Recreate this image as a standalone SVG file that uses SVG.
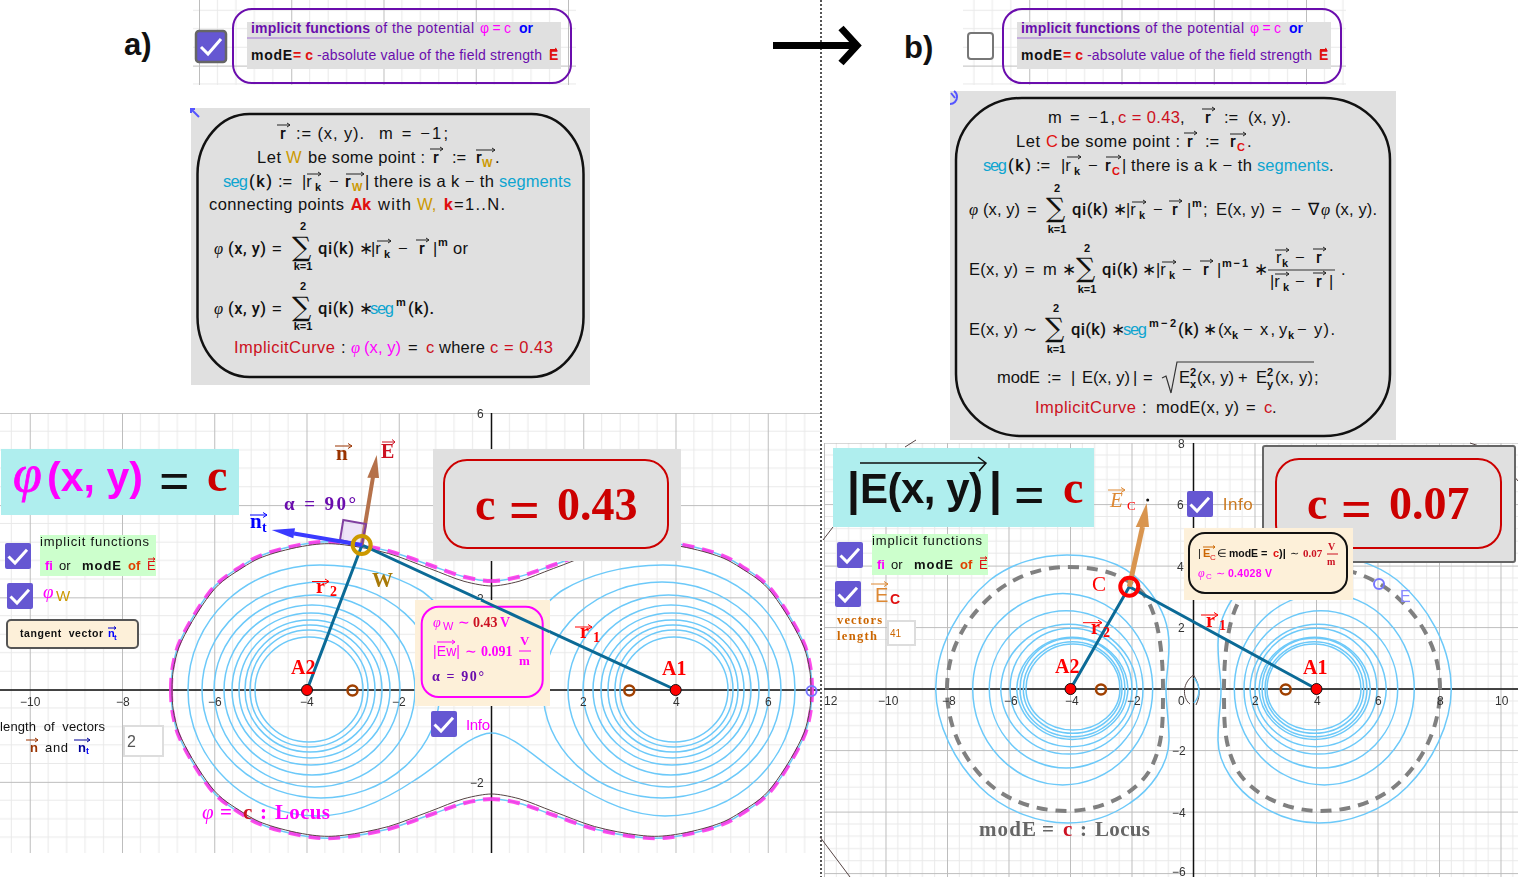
<svg xmlns="http://www.w3.org/2000/svg" width="1518" height="877" viewBox="0 0 1518 877">
<style>
text{font-family:"Liberation Sans",sans-serif;fill:#111;white-space:pre}
.m{font-size:16.5px}
.b{font-weight:bold}
.m.b{font-family:Roboto,sans-serif;font-weight:500}
.m.b.red{font-weight:700}
.sb{font-family:"Liberation Serif",serif;font-weight:bold}
.it{font-family:"Liberation Serif",serif;font-style:italic}
.sm{font-size:11px;font-weight:bold}
.sb11{font-size:11px;font-weight:bold}
.tick{font-size:12px;fill:#333}
.ov{fill:none;stroke:#222;stroke-width:1}
.red{fill:#e01010}
.dred{fill:#cc1122}
.mag{fill:#ff00ff}
.cy{fill:#0ea5d0}
.gold{fill:#cc9900}
.pur{fill:#6a0dad}
.blue{fill:#0000ff}
.org{fill:#cc6600}
.brn{fill:#993300}
.axis{stroke:#111;stroke-width:1.5;fill:none}
.line{stroke:#0b6a96;stroke-width:3;fill:none}
.ring{fill:none;stroke:#6cc9f9;stroke-width:1.5}
.pt{fill:#ff0000;stroke:#111;stroke-width:1}
.br{fill:none;stroke:#a04000;stroke-width:2.5}
.ph{font-family:"Liberation Serif",serif;font-style:italic}
.sig{font-family:"DejaVu Serif",serif;font-size:27px;fill:#111}
.top{font-size:14px}
.w{font-size:13px}
.lab{font-family:"Liberation Serif",serif;font-weight:bold;font-size:20px;fill:#ff0000}
</style>
<defs>
<pattern id="gl" patternUnits="userSpaceOnUse" width="92.25" height="92.25" patternTransform="translate(491,689.6)">
<path d="M18.45 0V92.25M36.9 0V92.25M55.35 0V92.25M73.8 0V92.25M0 18.45H92.25M0 36.9H92.25M0 55.35H92.25M0 73.8H92.25" stroke="#e9e9e9" stroke-width="1" fill="none"/>
<rect x="0" y="0" width="1" height="92.25" fill="#bdbdbd"/><rect x="0" y="0" width="92.25" height="1" fill="#bdbdbd"/>
</pattern>
<pattern id="gr" patternUnits="userSpaceOnUse" width="61.5" height="61.5" patternTransform="translate(1193,688.6)">
<path d="M12.3 0V61.5M24.6 0V61.5M36.9 0V61.5M49.2 0V61.5M0 12.3H61.5M0 24.6H61.5M0 36.9H61.5M0 49.2H61.5" stroke="#e9e9e9" stroke-width="1" fill="none"/>
<rect x="0" y="0" width="1" height="61.5" fill="#bdbdbd"/><rect x="0" y="0" width="61.5" height="1" fill="#bdbdbd"/>
</pattern>
<pattern id="gt" patternUnits="userSpaceOnUse" width="92.25" height="92.25" patternTransform="translate(199,65.6)">
<path d="M18.45 0V92.25M36.9 0V92.25M55.35 0V92.25M73.8 0V92.25M0 18.45H92.25M0 36.9H92.25M0 55.35H92.25M0 73.8H92.25" stroke="#e9e9e9" stroke-width="1" fill="none"/>
<rect x="0" y="0" width="1" height="92.25" fill="#bdbdbd"/><rect x="0" y="0" width="92.25" height="1" fill="#bdbdbd"/>
</pattern>
<g id="chk"><rect width="26" height="26" rx="2" fill="#6557d2"/><path d="M3.5 13.5L10 20L22 6.7" fill="none" stroke="#fff" stroke-width="3"/></g>
<path id="q-dash" d="M171 690C171 675 172.5 663 177.6 647C184 630.75 198.7 606.3 209.4 592.5C220.1 578.7 232 572.5 242 565.8C252 559.1 257.6 556.3 269.3 552.5C281 548.7 299.9 544.4 312.4 542.8C324.9 541.2 331.5 541.4 344.2 542.8C356.9 544.2 374.3 547.3 388.5 551C402.7 554.7 417 560.7 429.6 565C442.2 569.3 453.7 574.1 464 576.8C474.3 579.5 485 581 491.5 581"/>
<path id="q-black" d="M172 690C172 675 173.5 664 178.6 648C185 632 199.7 607.8 210.4 594C221 580 233 574 243 567.4C253 561 258.6 558 270.3 554.3C282 550.5 300 546.3 312.4 544.8C325 543.2 331.5 543.4 344.2 544.8C357 546.4 374.3 549.6 388.5 553.5C402.7 557.6 417 564 429.6 568.5C442 573 453.7 578.5 464 581.3C474 584 485 586 491.5 586" fill="none"/>
<g id="rings-l" class="ring">
<path d="M491.5 733C470 733 440 765 415 780C385 800 350 816 318 816C246 816 188 760 188 690C188 620 246 565 320 565C360 565 395 575 420 590C445 605 470 650 491.5 650"/>
<path d="M202 690A119 108 0 0 1 440 690A119 108 0 0 1 202 690"/>
<path d="M214 690A100.5 95 0 0 1 415 690A100.5 97 0 0 1 214 690"/>
<path d="M224 690A88 85 0 0 1 400 690A88 85 0 0 1 224 690"/>
<path d="M232 690A79 77 0 0 1 390 690A79 75 0 0 1 232 690"/>
<path d="M239 690A71.5 70 0 0 1 382 690A71.5 68 0 0 1 239 690"/>
<path d="M245 690A65 65 0 0 1 375 690A65 62 0 0 1 245 690"/>
<path d="M250 690A59 60 0 0 1 368 690A59 57 0 0 1 250 690"/>
<path d="M255 690A54 53 0 0 1 363 690A54 52 0 0 1 255 690"/>
</g>
<g id="rings-r" class="ring">
<path d="M935.7 689C936 645 960 605 990 580C1012 563 1040 555 1067 555C1100 555 1130 565 1150 592C1163 610 1169 625 1169 645C1169 665 1166 675 1166 690C1166 705 1169 720 1169 740C1169 765 1150 790 1130 803C1110 817 1090 823 1068 823C1040 823 1005 812 980 787C955 762 936 725 935.7 689Z"/>
<path d="M972.7 689A90 95.7 0 0 1 1152.7 689A90 96 0 0 1 972.7 689"/>
<path d="M989.3 689A76.8 78.3 0 0 1 1143 689A76.8 79 0 0 1 989.3 689"/>
<path d="M1000.7 689A68.2 67.3 0 0 1 1137 689A68.2 67.7 0 0 1 1000.7 689"/>
<path d="M1010 689A61 60.7 0 0 1 1132 689A61 57.7 0 0 1 1010 689"/>
<path d="M1016.7 689A55.7 54 0 0 1 1128 689A55.7 52.7 0 0 1 1016.7 689"/>
<path d="M1020 689A52.5 51 0 0 1 1125 689A52.5 47.7 0 0 1 1020 689"/>
<path d="M1023.3 689A49.3 47.3 0 0 1 1122 689A49.3 44.3 0 0 1 1023.3 689"/>
<path d="M1026 689A47 45 0 0 1 1120 689A47 41 0 0 1 1026 689"/>
</g>
<path id="dash-r" d="M947 689C947 650 965 620 990 597C1010 578 1040 567 1067 567C1095 567 1120 572 1140 590C1158 608 1163 650 1163 689C1163 725 1163 745 1150 770C1135 795 1100 811 1067 811C1035 811 1005 800 985 780C962 757 947 725 947 689Z"/>
</defs>

<line x1="821" y1="0" x2="821" y2="877" stroke="#555" stroke-width="2" stroke-dasharray="2 2"/>

<g id="label-a"><text x="124" y="55" class="b" font-size="31" style="fill:#111">a)</text></g>
<g id="label-b"><text x="904" y="58" class="b" font-size="31">b)</text></g>
<g id="big-arrow"><path d="M773 45.5H854M841 28L857 45.5L841 63" fill="none" stroke="#000" stroke-width="7"/></g>

<g id="header-a">
<rect x="193" y="0" width="383" height="85" fill="url(#gt)"/>
<rect x="196" y="31" width="30" height="31" rx="3" fill="#6557d2" stroke="#666" stroke-width="2.5"/>
<path d="M201 47L208 54L221 39" fill="none" stroke="#fff" stroke-width="3"/>
<rect x="233" y="9" width="338" height="74" rx="19" fill="none" stroke="#6a0dad" stroke-width="2"/>
<rect x="247" y="22" width="314" height="47" fill="#e0e0e0"/>
<path d="M247 38H370" stroke="#b898d8" stroke-width="1.5"/>
<text x="251" y="33" class="top b pur" textLength="119">implicit functions</text>
<text x="375" y="33" class="top pur" textLength="99">of the potential</text>
<text x="480" y="33" class="top mag" textLength="31">φ=c</text>
<text x="519" y="33" class="top b blue" textLength="14">or</text>
<text x="251" y="60" class="top b" textLength="41">modE</text>
<text x="293" y="60" class="top b red" textLength="20">=c</text>
<text x="317" y="60" class="top pur" textLength="225">-absolute value of the field strength</text>
<text x="549" y="60" class="top b red">E</text>
<path d="M550 49.5h7m-2-1.500l2 1.500l-2 1.500" fill="none" stroke="#e01010"/>
</g>

<g id="header-b">
<rect x="963" y="0" width="383" height="85" fill="url(#gt)" transform="translate(0,0)"/>
<rect x="968" y="33" width="25" height="26" rx="3" fill="#fff" stroke="#777" stroke-width="2"/>
<rect x="1003" y="9" width="338" height="74" rx="19" fill="none" stroke="#6a0dad" stroke-width="2"/>
<rect x="1017" y="22" width="314" height="47" fill="#e0e0e0"/>
<path d="M1017 38H1140" stroke="#b898d8" stroke-width="1.5"/>
<text x="1021" y="33" class="top b pur" textLength="119">implicit functions</text>
<text x="1145" y="33" class="top pur" textLength="99">of the potential</text>
<text x="1250" y="33" class="top mag" textLength="31">φ=c</text>
<text x="1289" y="33" class="top b blue" textLength="14">or</text>
<text x="1021" y="60" class="top b" textLength="41">modE</text>
<text x="1063" y="60" class="top b red" textLength="20">=c</text>
<text x="1087" y="60" class="top pur" textLength="225">-absolute value of the field strength</text>
<text x="1319" y="60" class="top b red">E</text>
<path d="M1320 49.5h7m-2-1.500l2 1.500l-2 1.500" fill="none" stroke="#e01010"/>
</g>

<g id="panel-a">
<rect x="191" y="108" width="399" height="277" fill="#e0e0e0"/>
<path d="M199 117L191 109M191 113V109H195" fill="none" stroke="#5555ff" stroke-width="2"/>
<rect x="197.500" y="114" width="386" height="263" rx="52" ry="60" fill="none" stroke="#111" stroke-width="2.500"/>
<text x="280" y="139" class="m b">r</text><path class="ov" d="M277 125h13m-3-2l3 2l-3 2"/>
<text x="296" y="139" class="m" textLength="68">:= (x, y).</text>
<text x="379" y="139" class="m" textLength="69">m = −1;</text>
<text x="257" y="163" class="m" textLength="24">Let</text>
<text x="286" y="163" class="m gold" font-size="17">W</text>
<text x="308" y="163" class="m" textLength="117">be some point :</text>
<text x="433" y="163" class="m b">r</text><path class="ov" d="M430 149h13m-3-2l3 2l-3 2"/>
<text x="452" y="163" class="m">:=</text>
<text x="476" y="163" class="m b">r</text><text x="482" y="167" class="sb11 gold" font-size="13">W</text><path class="ov" d="M476 150h19m-3-2l3 2l-3 2"/>
<text x="495" y="163" class="m">.</text>
<text x="223" y="187" class="m cy" textLength="25">seg</text>
<text x="249" y="187" class="m b" textLength="23">(k)</text>
<text x="278" y="187" class="m">:=</text>
<text x="302" y="187" class="m">|r</text><text x="315" y="191" class="sm">k</text><path class="ov" d="M307 174h14m-3-2l3 2l-3 2"/>
<text x="329" y="187" class="m">−</text>
<text x="345" y="187" class="m b">r</text><text x="352" y="191" class="sb11 gold" font-size="13">W</text><path class="ov" d="M346 174h18m-3-2l3 2l-3 2"/>
<text x="365" y="187" class="m">|</text>
<text x="374" y="187" class="m" textLength="120">there is a k − th</text>
<text x="499" y="187" class="m cy" textLength="72">segments</text>
<text x="209" y="210" class="m" textLength="135">connecting points</text>
<text x="351" y="210" class="m b red" textLength="20">Ak</text>
<text x="378" y="210" class="m" textLength="33">with</text>
<text x="417" y="210" class="m gold">W,</text>
<text x="444" y="210" class="m b red">k</text>
<text x="454" y="210" class="m" textLength="51">=1..N.</text>
<text x="214" y="254" class="m ph" font-size="18">φ</text>
<text x="228" y="254" class="m b" textLength="38">(x, y)</text>
<text x="272" y="254" class="m">=</text>
<text x="292" y="256" class="sig">∑</text>
<text x="303" y="230" class="sm" text-anchor="middle">2</text>
<text x="303" y="270" class="sm" text-anchor="middle">k=1</text>
<text x="318" y="254" class="m b" textLength="36">qi(k)</text>
<text x="359" y="254" class="m">∗</text>
<text x="371" y="254" class="m">|r</text><text x="384" y="258" class="sm">k</text><path class="ov" d="M377 241h14m-3-2l3 2l-3 2"/>
<text x="398" y="254" class="m">−</text>
<text x="419" y="254" class="m b">r</text><path class="ov" d="M416 240h13m-3-2l3 2l-3 2"/>
<text x="433" y="254" class="m">|</text>
<text x="438" y="246" class="sm">m</text>
<text x="453" y="254" class="m" textLength="15">or</text>
<text x="214" y="314" class="m ph" font-size="18">φ</text>
<text x="228" y="314" class="m b" textLength="38">(x, y)</text>
<text x="272" y="314" class="m">=</text>
<text x="292" y="316" class="sig">∑</text>
<text x="303" y="290" class="sm" text-anchor="middle">2</text>
<text x="303" y="330" class="sm" text-anchor="middle">k=1</text>
<text x="318" y="314" class="m b" textLength="36">qi(k)</text>
<text x="359" y="314" class="m">∗</text>
<text x="370" y="314" class="m cy" textLength="24">seg</text>
<text x="396" y="306" class="sm">m</text>
<text x="408" y="314" class="m b" textLength="26">(k).</text>
<text x="234" y="353" class="m dred" textLength="101">ImplicitCurve</text>
<text x="341" y="353" class="m">:</text>
<text x="351" y="353" class="m ph mag" font-size="18">φ</text>
<text x="364" y="353" class="m mag" textLength="37">(x, y)</text>
<text x="408" y="353" class="m">=</text>
<text x="426" y="353" class="m dred">c</text>
<text x="439" y="353" class="m" textLength="46">where</text>
<text x="490" y="353" class="m dred" textLength="63">c = 0.43</text>
</g>

<g id="panel-b">
<rect x="950" y="91" width="446" height="349" fill="#e0e0e0"/>
<path d="M950 104A7 7 0 0 0 957 97A7 7 0 0 0 954 91M951 93L955 98" fill="none" stroke="#5555ff" stroke-width="2"/>
<rect x="956" y="98" width="434" height="338" rx="66" ry="62" fill="none" stroke="#111" stroke-width="2.500"/>
<text x="1048" y="123" class="m" textLength="67">m = −1,</text>
<text x="1118" y="123" class="m dred" textLength="62">c = 0.43</text>
<text x="1180" y="123" class="m">,</text>
<text x="1205" y="123" class="m b">r</text><path class="ov" d="M1202 109h13m-3-2l3 2l-3 2"/>
<text x="1224" y="123" class="m">:=</text>
<text x="1248" y="123" class="m" textLength="43">(x, y).</text>
<text x="1016" y="147" class="m" textLength="24">Let</text>
<text x="1046" y="147" class="m red" font-size="17">C</text>
<text x="1061" y="147" class="m" textLength="119">be some point :</text>
<text x="1187" y="147" class="m b">r</text><path class="ov" d="M1184 133h13m-3-2l3 2l-3 2"/>
<text x="1205" y="147" class="m">:=</text>
<text x="1230" y="147" class="m b">r</text><text x="1237" y="151" class="sb11 red" font-size="13">C</text><path class="ov" d="M1230 134h16m-3-2l3 2l-3 2"/>
<text x="1247" y="147" class="m">.</text>
<text x="983" y="171" class="m cy" textLength="24">seg</text>
<text x="1008" y="171" class="m b" textLength="23">(k)</text>
<text x="1036" y="171" class="m">:=</text>
<text x="1061" y="171" class="m">|r</text><text x="1074" y="175" class="sm">k</text><path class="ov" d="M1067 157h14m-3-2l3 2l-3 2"/>
<text x="1088" y="171" class="m">−</text>
<text x="1105" y="171" class="m b">r</text><text x="1112" y="175" class="sb11 red" font-size="13">C</text><path class="ov" d="M1106 157h15m-3-2l3 2l-3 2"/>
<text x="1122" y="171" class="m">|</text>
<text x="1131" y="171" class="m" textLength="121">there is a k − th</text>
<text x="1257" y="171" class="m cy" textLength="72">segments</text>
<text x="1329" y="171" class="m">.</text>
<text x="969" y="215" class="m ph" font-size="18">φ</text>
<text x="983" y="215" class="m" textLength="37">(x, y)</text>
<text x="1027" y="215" class="m">=</text>
<text x="1046" y="217" class="sig">∑</text>
<text x="1057" y="192" class="sm" text-anchor="middle">2</text>
<text x="1057" y="233" class="sm" text-anchor="middle">k=1</text>
<text x="1072" y="215" class="m b" textLength="36">qi(k)</text>
<text x="1113" y="215" class="m">∗</text>
<text x="1126" y="215" class="m">|r</text><text x="1139" y="219" class="sm">k</text><path class="ov" d="M1132 202h14m-3-2l3 2l-3 2"/>
<text x="1153" y="215" class="m">−</text>
<text x="1172" y="215" class="m b">r</text><path class="ov" d="M1169 201h13m-3-2l3 2l-3 2"/>
<text x="1187" y="215" class="m">|</text>
<text x="1192" y="207" class="sm">m</text>
<text x="1203" y="215" class="m">;</text>
<text x="1216" y="215" class="m" textLength="49">E(x, y)</text>
<text x="1272" y="215" class="m">=</text>
<text x="1291" y="215" class="m" textLength="28">−∇</text>
<text x="1321" y="215" class="m ph" font-size="18">φ</text>
<text x="1335" y="215" class="m" textLength="42">(x, y).</text>
<text x="969" y="275" class="m" textLength="49">E(x, y)</text>
<text x="1025" y="275" class="m">=</text>
<text x="1043" y="275" class="m">m</text>
<text x="1062" y="275" class="m">∗</text>
<text x="1076" y="277" class="sig">∑</text>
<text x="1087" y="252" class="sm" text-anchor="middle">2</text>
<text x="1087" y="293" class="sm" text-anchor="middle">k=1</text>
<text x="1102" y="275" class="m b" textLength="36">qi(k)</text>
<text x="1142" y="275" class="m">∗</text>
<text x="1156" y="275" class="m">|r</text><text x="1169" y="279" class="sm">k</text><path class="ov" d="M1162 262h14m-3-2l3 2l-3 2"/>
<text x="1182" y="275" class="m">−</text>
<text x="1203" y="275" class="m b">r</text><path class="ov" d="M1200 261h13m-3-2l3 2l-3 2"/>
<text x="1217" y="275" class="m">|</text>
<text x="1222" y="267" class="sm" textLength="26">m−1</text>
<text x="1254" y="275" class="m">∗</text>
<text x="1276" y="263" class="m">r</text><text x="1282" y="267" class="sm">k</text><path class="ov" d="M1275 250h14m-3-2l3 2l-3 2"/>
<text x="1295" y="263" class="m">−</text>
<text x="1316" y="263" class="m b">r</text><path class="ov" d="M1313 249h13m-3-2l3 2l-3 2"/>
<path d="M1268 270H1335" stroke="#333" stroke-width="1"/>
<text x="1270" y="287" class="m">|r</text><text x="1283" y="291" class="sm">k</text><path class="ov" d="M1275 274h14m-3-2l3 2l-3 2"/>
<text x="1295" y="287" class="m">−</text>
<text x="1316" y="287" class="m b">r</text><path class="ov" d="M1313 273h13m-3-2l3 2l-3 2"/>
<text x="1329" y="287" class="m">|</text>
<text x="1341" y="275" class="m">.</text>
<text x="969" y="335" class="m" textLength="49">E(x, y)</text>
<text x="1023" y="335" class="m">∼</text>
<text x="1045" y="337" class="sig">∑</text>
<text x="1056" y="312" class="sm" text-anchor="middle">2</text>
<text x="1056" y="353" class="sm" text-anchor="middle">k=1</text>
<text x="1071" y="335" class="m b" textLength="35">qi(k)</text>
<text x="1111" y="335" class="m">∗</text>
<text x="1123" y="335" class="m cy" textLength="24">seg</text>
<text x="1149" y="327" class="sm" textLength="27">m−2</text>
<text x="1178" y="335" class="m b" textLength="21">(k)</text>
<text x="1203" y="335" class="m">∗</text>
<text x="1218" y="335" class="m">(x</text><text x="1232" y="339" class="sm">k</text>
<text x="1243" y="335" class="m">−</text>
<text x="1260" y="335" class="m" textLength="15">x,</text>
<text x="1279" y="335" class="m">y</text><text x="1288" y="339" class="sm">k</text>
<text x="1297" y="335" class="m">−</text>
<text x="1314" y="335" class="m" textLength="21">y).</text>
<text x="997" y="383" class="m" textLength="43">modE</text>
<text x="1047" y="383" class="m">:=</text>
<text x="1071" y="383" class="m">|</text>
<text x="1082" y="383" class="m" textLength="48">E(x, y)</text>
<text x="1133" y="383" class="m">|</text>
<text x="1143" y="383" class="m">=</text>
<path d="M1162 378L1166 376L1171 393L1177 362H1314" fill="none" stroke="#333" stroke-width="1.200"/>
<text x="1179" y="383" class="m">E</text><text x="1190" y="376" class="sm" font-size="10">2</text><text x="1190" y="388" class="sm" font-size="10">x</text>
<text x="1197" y="383" class="m" textLength="37">(x, y)</text>
<text x="1238" y="383" class="m">+</text>
<text x="1256" y="383" class="m">E</text><text x="1267" y="376" class="sm" font-size="10">2</text><text x="1267" y="388" class="sm" font-size="10">y</text>
<text x="1275" y="383" class="m" textLength="38">(x, y)</text>
<text x="1314" y="383" class="m">;</text>
<text x="1035" y="413" class="m dred" textLength="101">ImplicitCurve</text>
<text x="1142" y="413" class="m">:</text>
<text x="1156" y="413" class="m" textLength="83">modE(x, y)</text>
<text x="1246" y="413" class="m">=</text>
<text x="1264" y="413" class="m dred">c</text>
<text x="1272" y="413" class="m">.</text>
</g>

<g id="plot-a">
<rect x="0" y="413" width="820" height="440" fill="url(#gl)"/>
<path class="axis" d="M0 690H820M491.5 413V853"/>
<use href="#rings-l"/>
<use href="#rings-l" transform="matrix(-1 0 0 1 983 0)"/>
<g fill="none" stroke="#6cc9f9" stroke-width="1.500">
<use href="#q-dash"/><use href="#q-dash" transform="matrix(-1 0 0 1 983 0)"/><use href="#q-dash" transform="matrix(1 0 0 -1 0 1380)"/><use href="#q-dash" transform="matrix(-1 0 0 -1 983 1380)"/>
</g>
<g fill="none" stroke="#ff2fe8" stroke-width="4" stroke-dasharray="12 8" opacity=".85">
<use href="#q-dash"/><use href="#q-dash" transform="matrix(-1 0 0 1 983 0)"/><use href="#q-dash" transform="matrix(1 0 0 -1 0 1380)"/><use href="#q-dash" transform="matrix(-1 0 0 -1 983 1380)"/>
</g>
<g fill="none" stroke="#554444" stroke-width="1">
<use href="#q-black"/><use href="#q-black" transform="matrix(-1 0 0 1 983 0)"/><use href="#q-black" transform="matrix(1 0 0 -1 0 1380)"/><use href="#q-black" transform="matrix(-1 0 0 -1 983 1380)"/>
</g>
<g class="tick">
<text x="20" y="706" class="tick">−10</text><text x="116" y="706" class="tick">−8</text><text x="208" y="706" class="tick">−6</text><text x="300" y="706" class="tick">−4</text><text x="392" y="706" class="tick">−2</text><text x="580" y="706" class="tick">2</text><text x="673" y="706" class="tick">4</text><text x="765" y="706" class="tick">6</text><text x="477" y="418" class="tick">6</text><text x="477" y="603" class="tick">2</text><text x="470" y="787" class="tick">−2</text>
</g>
<circle class="br" cx="352.500" cy="690.500" r="5"/>
<circle class="br" cx="629.300" cy="690.500" r="5"/>
<circle cx="811.500" cy="691" r="5" fill="none" stroke="#7777ff" stroke-width="2"/>
<path class="line" d="M307 690L362 545L676 690"/>
<path d="M361.700 545L373 477" stroke="#b5714a" stroke-width="4"/>
<polygon points="376.700,455 367.300,477.700 379,478" fill="#b5714a"/>
<polygon points="343.300,520 366,524 361.700,545 340,540" fill="#c8a8e8" fill-opacity=".3" stroke="#8040a0" stroke-width="2"/>
<path d="M294 533.500L361.700 545" stroke="#3a3aff" stroke-width="4"/>
<polygon points="271.700,530 295,528.300 293.300,538.300" fill="#3a3aff"/>
<circle cx="361.700" cy="545" r="9" fill="none" stroke="#cc9900" stroke-width="4"/>
<circle class="pt" cx="307" cy="690" r="5.500"/>
<circle class="pt" cx="675.700" cy="690" r="5.500"/>
<text x="291" y="674" class="lab" font-size="20">A2</text>
<text x="662" y="675" class="lab">A1</text>
<text x="316" y="593" class="lab">r</text><text x="330" y="596" class="lab" style="font-size:14px">2</text><path d="M312 581.500h17m-4-2.500l4 2.500l-4 2.500" fill="none" stroke="#f00"/>
<text x="580" y="638" class="lab">r</text><text x="593" y="642" class="lab" style="font-size:14px">1</text><path d="M575 627h17m-4-2.500l4 2.500l-4 2.500" fill="none" stroke="#f00"/>
<text x="372" y="587" class="sb" font-size="21" style="fill:#a87a08">W</text>
<text x="336" y="460" class="sb brn" font-size="21">n</text><path d="M335 446h17m-4-2.500l4 2.500l-4 2.500" fill="none" stroke="#993300"/>
<text x="381" y="458" class="sb" font-size="20" style="fill:#cc1122">E</text><path d="M382 442h13m-3-2.500l3 2.500l-3 2.500" fill="none" stroke="#cc1122"/>
<text x="284" y="510" class="sb pur" font-size="19" textLength="72">α = 90°</text>
<text x="250" y="528" class="sb blue" font-size="21">n</text><text x="262" y="532" class="sb blue" font-size="14">t</text><path d="M250 515h17m-4-2.500l4 2.500l-4 2.500" fill="none" stroke="#0000ff"/>
<g id="title-a">
<rect x="1" y="449" width="238" height="66" fill="#afeeee"/>
<text x="13" y="491" class="ph mag" font-size="52" stroke="#ff00ff" stroke-width=".8">φ</text>
<text x="47" y="491" class="b mag" font-size="41" textLength="96">(x, y)</text>
<text x="159" y="499" class="sb" font-size="54">=</text>
<text x="207" y="491" class="sb" font-size="46" style="fill:#cc0000">c</text>
</g>
<g id="c-a">
<rect x="433" y="449" width="248" height="112" fill="#e0e0e0"/>
<rect x="444" y="460" width="224" height="88" rx="23" fill="none" stroke="#cc0000" stroke-width="2"/>
<text x="475" y="520" class="sb" font-size="46" style="fill:#cc0000">c</text>
<text x="509" y="528" class="sb" font-size="54" style="fill:#cc0000">=</text>
<text x="557" y="520" class="sb" font-size="46" style="fill:#cc0000">0.43</text>
</g>
<g id="check-fi-a">
<use href="#chk" x="5" y="543"/>
<rect x="40" y="535" width="116" height="41" fill="#ccffcc"/>
<text x="40" y="546" class="w" textLength="109">implicit functions</text>
<text x="45" y="570" class="w b mag">fi</text><text x="59" y="570" class="w">or</text>
<text x="82" y="570" class="w b" textLength="39">modE</text>
<text x="128" y="570" class="w b" style="fill:#e04000">of</text>
<text x="147" y="570" class="w red">E</text><path d="M148 559h7m-2-1.500l2 1.500l-2 1.500" fill="none" stroke="#e01010"/>
</g>
<g id="check-w-a">
<use href="#chk" x="7" y="583"/>
<text x="43" y="598" class="ph mag" font-size="19">φ</text>
<text x="56" y="601" class="gold" font-size="15">W</text>
</g>
<g id="btn-tangent">
<rect x="7" y="620" width="131" height="28" rx="4" fill="#fdf0d9" stroke="#555" stroke-width="2"/>
<text x="20" y="637" class="b" font-size="10.500" textLength="83">tangent  vector</text>
<text x="108" y="637" class="b blue" font-size="11">n</text><text x="114" y="640" class="b blue" font-size="8">t</text><path d="M108 628h8m-2-1.500l2 1.500l-2 1.500" fill="none" stroke="#0000cc"/>
</g>
<g id="length-a">
<text x="0" y="731" class="w" textLength="105">length  of  vectors</text>
<text x="30" y="752" class="w b brn">n</text><path d="M26 740h12m-3-2l3 2l-3 2" fill="none" stroke="#993300"/>
<text x="45" y="752" class="w" textLength="23">and</text>
<text x="78" y="752" class="w b" style="fill:#000099">n</text><text x="86" y="754" class="b blue" font-size="9">t</text><path d="M74 740h16m-3-2l3 2l-3 2" fill="none" stroke="#000099"/>
<rect x="124" y="726" width="39" height="30" fill="#fff" stroke="#ddd" stroke-width="2"/>
<text x="127" y="747" font-size="16" style="fill:#555">2</text>
</g>
<g id="locus-a">
<text x="202" y="819" class="ph mag" font-size="21">φ</text>
<text x="220" y="819" class="sb mag" font-size="21">=</text>
<text x="243" y="819" class="sb" font-size="21" style="fill:#cc1122">c</text>
<text x="260" y="819" class="sb mag" font-size="21">:</text>
<text x="275" y="819" class="sb mag" font-size="21" textLength="55">Locus</text>
</g>
<g id="check-info-a">
<use href="#chk" x="431" y="711"/>
<text x="466" y="730" class="mag" font-size="15" textLength="24">Info</text>
</g>
<g id="info-a">
<rect x="415" y="600" width="135" height="106" fill="#fdf0d9"/>
<rect x="421.700" y="606.700" width="121" height="90.300" rx="17" fill="none" stroke="#ff00ff" stroke-width="2"/>
<text x="433" y="627" class="ph mag" font-size="14">φ</text><text x="443" y="630" class="mag" font-size="11">W</text>
<text x="458" y="627" class="mag" font-size="14">∼</text>
<text x="473" y="627" class="sb" font-size="14" style="fill:#cc1122">0.43</text><text x="500" y="627" class="sb mag" font-size="14">V</text>
<path class="line" d="M481 600L550 632"/>
<text x="433" y="656" class="mag" font-size="14" textLength="27">|Ew|</text><path d="M437 642h18m-3-2l3 2l-3 2" fill="none" stroke="#ff00ff"/>
<text x="465" y="656" class="mag" font-size="14">∼</text>
<text x="481" y="656" class="sb mag" font-size="14">0.091</text>
<text x="520" y="645" class="sb mag" font-size="13">V</text>
<path d="M519 651H531" stroke="#ff00ff"/>
<text x="519" y="665" class="sb mag" font-size="13">m</text>
<text x="432" y="680.500" class="sb pur" font-size="14" textLength="52">α = 90°</text>
</g>
</g>

<g id="plot-b">
<rect x="824" y="443" width="694" height="434" fill="url(#gr)"/>
<path class="axis" d="M824 689H1518M1193.500 443V877"/>
<use href="#rings-r"/>
<use href="#rings-r" transform="matrix(-1 0 0 1 2387 0)"/>
<g fill="none" stroke="#808080" stroke-width="4" stroke-dasharray="11 8">
<use href="#dash-r"/><use href="#dash-r" transform="matrix(-1 0 0 1 2387 0)"/>
</g>
<path d="M1193.500 675C1180 685 1184 700 1190 704M1193.500 675C1200 685 1201 695 1196 705M916 440L905 447M833 527L823 540M820 837L850 877M1470 443L1482 447M1513 475L1518 481" fill="none" stroke="#554444" stroke-width="1"/>
<path d="M1194 678C1200 685 1201 695 1194 703" fill="none" stroke="#6cc9f9" stroke-width="1.500"/>
<g>
<text x="824" y="705" class="tick">12</text><text x="878" y="705" class="tick">−10</text><text x="942" y="705" class="tick">−8</text><text x="1004" y="705" class="tick">−6</text><text x="1065" y="705" class="tick">−4</text><text x="1127" y="705" class="tick">−2</text><text x="1178" y="705" class="tick">0</text><text x="1252" y="705" class="tick">2</text><text x="1314" y="705" class="tick">4</text><text x="1375" y="705" class="tick">6</text><text x="1437" y="705" class="tick">8</text><text x="1495" y="705" class="tick">10</text><text x="1178" y="448" class="tick">8</text><text x="1177" y="509" class="tick">6</text><text x="1177" y="571" class="tick">4</text><text x="1178" y="632" class="tick">2</text><text x="1172" y="755" class="tick">−2</text><text x="1172" y="817" class="tick">−4</text><text x="1172" y="876" class="tick">−6</text>
</g>
<circle class="br" cx="1101" cy="689.500" r="5"/>
<circle class="br" cx="1285.700" cy="689.500" r="5"/>
<circle cx="1379" cy="584" r="5" fill="none" stroke="#7777ff" stroke-width="2"/>
<text x="1400" y="601.700" font-size="16" style="fill:#8888ff">E</text>
<path class="line" d="M1070.500 689L1129.300 586.700L1316.500 689"/>
<path d="M1129.300 586.700L1142.500 527" stroke="#d9954f" stroke-width="5"/>
<polygon points="1146.700,503 1135.700,527 1149,527" fill="#d9954f"/>
<circle cx="1147.700" cy="500" r="1.500" fill="#111"/>
<circle cx="1129.300" cy="586.700" r="9" fill="none" stroke="#ff0000" stroke-width="4"/>
<circle class="pt" cx="1070.500" cy="689" r="5.500"/>
<circle class="pt" cx="1316.500" cy="689" r="5.500"/>
<text x="1055" y="672.700" class="lab">A2</text>
<text x="1303" y="674" class="lab">A1</text>
<text x="1091" y="634" class="lab">r</text><text x="1103" y="637" class="lab" style="font-size:14px">2</text><path d="M1083 622.700h19m-4-2.500l4 2.500l-4 2.500" fill="none" stroke="#f00"/>
<text x="1206" y="627" class="lab">r</text><text x="1219" y="630" class="lab" style="font-size:14px">1</text><path d="M1201 615h17m-4-2.500l4 2.500l-4 2.500" fill="none" stroke="#f00"/>
<text x="1092" y="590.700" class="lab" style="font-weight:normal;font-size:21px">C</text>
<text x="1110" y="507" class="it org" font-size="21" style="fill:#dd8833">E</text><text x="1127" y="510" class="lab" style="font-size:13px;font-weight:normal">C</text><path d="M1108 490h17m-4-2.500l4 2.500l-4 2.500" fill="none" stroke="#dd8833"/>
<g id="title-b">
<rect x="833" y="448" width="261" height="79" fill="#afeeee"/>
<text x="847" y="505" class="b" font-size="46">|</text>
<text x="860" y="503" class="b" font-size="42" textLength="123">E(x, y)</text>
<text x="989" y="505" class="b" font-size="46">|</text>
<path d="M860 463H986M978 457L986 463L979 471" fill="none" stroke="#111" stroke-width="1.500"/>
<text x="1014" y="513" class="sb" font-size="54">=</text>
<text x="1063" y="503" class="sb" font-size="46" style="fill:#cc0000">c</text>
</g>
<g id="check-fi-b">
<use href="#chk" x="837" y="542"/>
<rect x="872" y="534" width="116" height="41" fill="#ccffcc"/>
<text x="872" y="545" class="w" textLength="110">implicit functions</text>
<text x="877" y="569" class="w b mag">fi</text><text x="891" y="569" class="w">or</text>
<text x="914" y="569" class="w b" textLength="39">modE</text>
<text x="960" y="569" class="w b" style="fill:#e04000">of</text>
<text x="979" y="569" class="w red">E</text><path d="M980 558h7m-2-1.500l2 1.500l-2 1.500" fill="none" stroke="#e01010"/>
</g>
<g id="check-ec">
<use href="#chk" x="835" y="581"/>
<text x="875" y="602" font-size="20" style="fill:#dd8833">E</text>
<text x="890" y="604" class="b red" font-size="14">C</text>
<path d="M871 584h17m-4-2.500l4 2.500l-4 2.500" fill="none" stroke="#dd8833"/>
</g>
<g id="length-b">
<text x="837" y="624" class="sb org" font-size="12.500" textLength="45">vectors</text>
<text x="837" y="640" class="sb org" font-size="12.500" textLength="40">length</text>
<rect x="888" y="621" width="27" height="24" fill="#fff" stroke="#ddd" stroke-width="2"/>
<text x="890" y="637" class="org" font-size="10">41</text>
</g>
<g id="locus-b">
<text x="979" y="836" class="sb" font-size="21" textLength="57" style="fill:#666">modE</text>
<text x="1042" y="836" class="sb" font-size="21" style="fill:#666">=</text>
<text x="1063" y="836" class="sb" font-size="21" style="fill:#cc1122">c</text>
<text x="1080" y="836" class="sb" font-size="21" style="fill:#666">:</text>
<text x="1095" y="836" class="sb" font-size="21" textLength="55" style="fill:#666">Locus</text>
</g>
<g id="c-b">
<rect x="1263" y="446" width="252" height="116" rx="2" fill="#e0e0e0" stroke="#666" stroke-width="2"/>
<rect x="1276" y="459" width="225" height="89" rx="23" fill="none" stroke="#cc0000" stroke-width="2"/>
<text x="1307" y="519" class="sb" font-size="46" style="fill:#cc0000">c</text>
<text x="1341" y="527" class="sb" font-size="54" style="fill:#cc0000">=</text>
<text x="1389" y="519" class="sb" font-size="46" style="fill:#cc0000">0.07</text>
</g>
<g id="check-info-b">
<use href="#chk" x="1187" y="491"/>
<text x="1222.700" y="510" class="org" font-size="17" textLength="30" style="fill:#cc7a20">Info</text>
</g>
<g id="info-b">
<rect x="1184" y="528" width="169" height="72" fill="#fdf0d9"/>
<rect x="1189" y="533" width="158" height="60" rx="16" fill="none" stroke="#111" stroke-width="2"/>
<text x="1198" y="557" font-size="11">|</text>
<text x="1203" y="557" class="b org" font-size="11">E</text><text x="1210" y="560" class="red" font-size="8">C</text><path d="M1203 547h12m-2-1.500l2 1.500l-2 1.500" fill="none" stroke="#cc6600"/>
<text x="1217" y="557" font-size="11">∈</text>
<text x="1229" y="557" class="b" font-size="10.500" textLength="29">modE</text>
<text x="1261" y="557" class="b" font-size="11">=</text>
<text x="1273" y="557" class="b red" font-size="11">c</text>
<text x="1279" y="557" class="b" font-size="11">)|</text>
<text x="1290" y="557" font-size="11">∼</text>
<text x="1303" y="557" class="sb" font-size="11" style="fill:#cc1122">0.07</text>
<text x="1328" y="550" class="sb" font-size="10" style="fill:#cc1122">V</text>
<path d="M1327 554H1338" stroke="#cc1122"/>
<text x="1327" y="565" class="sb" font-size="10" style="fill:#cc1122">m</text>
<text x="1198" y="576.700" class="ph mag" font-size="12">φ</text><text x="1206" y="579" class="mag" font-size="8">C</text>
<text x="1216" y="576.700" class="mag" font-size="11">∼</text>
<text x="1228" y="576.700" class="b mag" font-size="10.500" textLength="44">0.4028 V</text>
</g>
</g>
</svg>
